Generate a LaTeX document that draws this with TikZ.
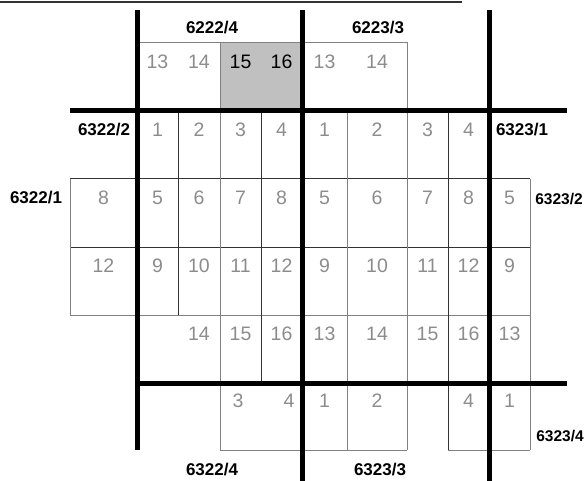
\documentclass[tikz,border=0pt]{standalone}
\usepackage{fontspec}
\setmainfont{Liberation Sans}
\definecolor{numgray}{HTML}{8C8C8C}
\definecolor{boxgray}{HTML}{C0C0C0}
\definecolor{linedark}{HTML}{333333}
\definecolor{linelight}{HTML}{808080}
\begin{document}
\begin{tikzpicture}[x=1pt,y=-1pt,
  thin1/.style={draw=linedark,line width=1pt},
  thin2/.style={draw=linelight,line width=1pt},
  thick/.style={draw=black,line width=5pt},
  num/.style={inner sep=0pt,text=numgray,font=\fontsize{19.5}{20}\selectfont},
  numk/.style={num,text=black},
  lab/.style={inner sep=0pt,font=\bfseries\fontsize{17}{18}\selectfont},
  labs/.style={inner sep=0pt,font=\bfseries\fontsize{15.5}{16}\selectfont}]
\useasboundingbox (0,0) rectangle (586,481);
% top rule
\draw[draw=linedark,line width=1.5pt] (0,2) -- (462,2);
% grey cell
\fill[boxgray] (220,43) rectangle (302,111);
% thin lines
\draw[thin2] (137,43) rectangle (407,111);
\draw[thin2] (220,43) -- (220,111);
\draw[thin1] (70,179) -- (530,179);
\draw[thin1] (70,247) -- (530,247);
\draw[thin2] (70,315) -- (530,315);
\draw[thin2] (220,450) -- (407,450);
\draw[thin2] (448,450) -- (530,450);
\draw[thin2] (70,179) -- (70,315);
\draw[thin1] (178,111) -- (178,315);
\draw[thin2] (220,111) -- (220,450);
\draw[thin1] (261,111) -- (261,383);
\draw[thin2] (347,111) -- (347,450);
\draw[thin2] (407,111) -- (407,450);
\draw[thin1] (448,111) -- (448,450);
\draw[thin2] (530,179) -- (530,450);
% thick lines
\draw[thick] (137,10) -- (137,450);
\draw[thick] (302,10) -- (302,481);
\draw[thick] (489,10) -- (489,481);
\draw[thick] (70,111) -- (567,111);
\draw[thick] (137,383) -- (567,383);
% top row
\node[num] (t1) at (157.5,62) {13};
\node[num] (t2) at (199,62) {14};
\node[numk] (t3) at (240.5,62) {15};
\node[numk] (t4) at (281.5,62) {16};
\node[num] (t5) at (324.5,62) {13};
\node[num] (t6) at (377,62) {14};
% row 1
\node[num] (a1) at (157.5,130) {1};
\node[num] (a2) at (199,130) {2};
\node[num] (a3) at (240.5,130) {3};
\node[num] (a4) at (281.5,130) {4};
\node[num] (a5) at (324.5,130) {1};
\node[num] (a6) at (377,130) {2};
\node[num] (a7) at (427.5,130) {3};
\node[num] (a8) at (468.5,130) {4};
% row 2
\node[num] (b0) at (103.5,198) {8};
\node[num] (b1) at (157.5,198) {5};
\node[num] (b2) at (199,198) {6};
\node[num] (b3) at (240.5,198) {7};
\node[num] (b4) at (281.5,198) {8};
\node[num] (b5) at (324.5,198) {5};
\node[num] (b6) at (377,198) {6};
\node[num] (b7) at (427.5,198) {7};
\node[num] (b8) at (468.5,198) {8};
\node[num] (b9) at (509.5,198) {5};
% row 3
\node[num] (c0) at (103.5,266) {12};
\node[num] (c1) at (157.5,266) {9};
\node[num] (c2) at (199,266) {10};
\node[num] (c3) at (240.5,266) {11};
\node[num] (c4) at (281.5,266) {12};
\node[num] (c5) at (324.5,266) {9};
\node[num] (c6) at (377,266) {10};
\node[num] (c7) at (427.5,266) {11};
\node[num] (c8) at (468.5,266) {12};
\node[num] (c9) at (509.5,266) {9};
% row 4
\node[num] (d2) at (199,334) {14};
\node[num] (d3) at (240.5,334) {15};
\node[num] (d4) at (281.5,334) {16};
\node[num] (d5) at (324.5,334) {13};
\node[num] (d6) at (377,334) {14};
\node[num] (d7) at (427.5,334) {15};
\node[num] (d8) at (468.5,334) {16};
\node[num] (d9) at (509.5,334) {13};
% row 5
\node[num] (e3) at (238,401) {3};
\node[num] (e4) at (289,401) {4};
\node[num] (e5) at (324.5,401) {1};
\node[num] (e6) at (377,401) {2};
\node[num] (e8) at (468.5,401) {4};
\node[num] (e9) at (509.5,401) {1};
% sheet labels
\node[lab] (l1) at (212,28) {6222/4};
\node[lab] (l2) at (378,28) {6223/3};
\node[lab] (l3) at (104,130) {6322/2};
\node[lab] (l4) at (36,198) {6322/1};
\node[lab] (l5) at (522,130) {6323/1};
\node[labs] (l6) at (559,199) {6323/2};
\node[labs] (l7) at (560,436) {6323/4};
\node[lab] (l8) at (212,470) {6322/4};
\node[lab] (l9) at (380,470) {6323/3};
\end{tikzpicture}
\end{document}
